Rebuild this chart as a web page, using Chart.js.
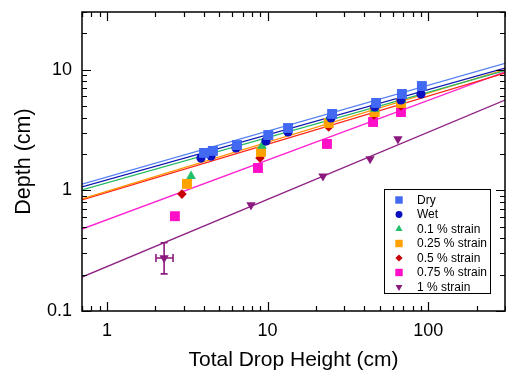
<!DOCTYPE html>
<html><head><meta charset="utf-8">
<script src="https://cdn.jsdelivr.net/npm/chart.js@4.4.1/dist/chart.umd.min.js"></script>
<style>html,body{margin:0;padding:0;background:#fff}#wrap{width:506px;height:375px;position:relative}</style>
</head><body><div id="wrap"><canvas id="c"></canvas></div>
<script>
// ---- data ----
const seriesNames = ['Dry', 'Wet', '0.1 % strain', '0.25 % strain', '0.5 % strain', '0.75 % strain', '1 % strain'];

const dryX = [4.02, 4.57, 6.45, 10.1, 13.4, 25.2, 47.3, 68.5, 91.2];
const dryY = [2.04, 2.12, 2.37, 2.87, 3.28, 4.29, 5.29, 6.28, 7.31];

const wetX = [3.85, 4.45, 6.36, 9.77, 13.4, 24.8, 46.4, 67.6, 90.0];
const wetY = [1.85, 1.92, 2.24, 2.56, 3.04, 3.97, 4.90, 5.60, 6.28];

const s010X = [3.34, 9.23, 24.4, 46.4, 68.5];
const s010Y = [1.31, 2.33, 4.08, 4.72, 5.60];

const s025X = [3.15, 9.10, 24.0, 46.4, 67.6];
const s025Y = [1.13, 2.08, 3.61, 4.45, 5.29];

const s050X = [2.93, 8.97, 24.0, 45.9, 67.6];
const s050Y = [0.93, 1.85, 3.35, 4.20, 4.99];

const s075X = [2.65, 8.71, 23.4, 45.3, 67.6];
const s075Y = [0.61, 1.53, 2.42, 3.68, 4.45];

const s100X = [2.27, 7.88, 22.1, 43.4, 64.7];
const s100Y = [0.275, 0.755, 1.31, 1.82, 2.66];

// error bars (1 % strain, first point only)
const s100ErrXLow  = [2.02, null, null, null, null];
const s100ErrXHigh = [2.58, null, null, null, null];
const s100ErrYLow  = [0.203, null, null, null, null];
const s100ErrYHigh = [0.368, null, null, null, null];

// power-law fit lines  depth = A * height^b
const fitPrefactor = [1.29, 1.22, 1.15, 0.98, 0.96, 0.57, 0.233];
const fitExponent  = [0.380, 0.374, 0.3755, 0.407, 0.399, 0.495, 0.557];

const xAxisMin = 0.7, xAxisMax = 300;
const yAxisMin = 0.1, yAxisMax = 30;
const xTickLabels = [1, 10, 100];
const yTickLabels = [0.1, 1, 10];

// ---- styles ----
const allX = [dryX, wetX, s010X, s025X, s050X, s075X, s100X];
const allY = [dryY, wetY, s010Y, s025Y, s050Y, s075Y, s100Y];
const markerColors = ['#4169f2', '#0a10c0', '#22c06a', '#ffa200', '#c80008', '#ff10c8', '#8c1a7e'];
const lineColors   = ['#5580f2', '#1018b0', '#26ba62', '#ff9200', '#ff2418', '#ff22d0', '#8e2484'];
const markerStyles = ['rect', 'circle', 'triangle', 'rect', 'rectRot', 'rect', 'triangleDown'];
const markerRadii  = [7, 4.6, 5.6, 7, 4.8, 7, 5.4];

const FONT = "'Liberation Sans', Arial, Helvetica, sans-serif";

const datasets = [];
for (let i = 0; i < seriesNames.length; i++) {
  const st = markerStyles[i];
  datasets.push({
    label: seriesNames[i],
    data: allX[i].map((x, j) => ({x: x, y: allY[i][j]})),
    showLine: false,
    pointStyle: st === 'triangleDown' ? 'triangle' : st,
    rotation: st === 'triangleDown' ? 180 : 0,
    pointRadius: markerRadii[i],
    pointBackgroundColor: markerColors[i],
    pointBorderColor: markerColors[i],
    pointBorderWidth: 0,
    order: 0
  });
}
for (let i = 0; i < seriesNames.length; i++) {
  datasets.push({
    label: seriesNames[i] + ' fit',
    data: [xAxisMin, xAxisMax].map(x => ({x: x, y: fitPrefactor[i] * Math.pow(x, fitExponent[i])})),
    showLine: true,
    pointRadius: 0,
    borderColor: lineColors[i],
    borderWidth: 1.3,
    fill: false,
    order: 1
  });
}

function isPow10(v) { const l = Math.log10(v); return Math.abs(l - Math.round(l)) < 1e-6; }
function isLogTick(v) {
  const m = v / Math.pow(10, Math.floor(Math.log10(v) + 1e-9));
  return Math.abs(m - Math.round(m)) < 1e-6;
}
function fmt(v) { return String(Number(v.toPrecision(3))); }

function drawMarker(ctx, style, x, y, r, color) {
  ctx.save();
  ctx.fillStyle = color;
  ctx.beginPath();
  if (style === 'rect') {
    const s = Math.SQRT1_2 * r;
    ctx.rect(x - s, y - s, 2 * s, 2 * s);
  } else if (style === 'circle') {
    ctx.arc(x, y, r, 0, Math.PI * 2);
  } else if (style === 'triangle' || style === 'triangleDown') {
    const sgn = style === 'triangle' ? 1 : -1;
    ctx.moveTo(x, y - sgn * r);
    ctx.lineTo(x + r * Math.sin(Math.PI / 3), y + sgn * r * 0.5);
    ctx.lineTo(x - r * Math.sin(Math.PI / 3), y + sgn * r * 0.5);
    ctx.closePath();
  } else if (style === 'rectRot') {
    ctx.moveTo(x, y - r); ctx.lineTo(x + r, y); ctx.lineTo(x, y + r); ctx.lineTo(x - r, y); ctx.closePath();
  }
  ctx.fill();
  ctx.restore();
}

const framePlugin = {
  id: 'frameTicks',
  afterDraw(chart) {
    const {ctx, chartArea: a, scales: {x, y}} = chart;
    ctx.save();
    ctx.strokeStyle = '#000';
    ctx.lineWidth = 1.2;
    x.ticks.forEach(t => {
      const v = t.value;
      if (v < xAxisMin || v > xAxisMax || !isLogTick(v)) return;
      const px = Math.round(x.getPixelForValue(v)) + 0.5;
      const len = isPow10(v) ? 9 : 5;
      ctx.beginPath();
      ctx.moveTo(px, a.bottom); ctx.lineTo(px, a.bottom - len);
      ctx.moveTo(px, a.top); ctx.lineTo(px, a.top + len);
      ctx.stroke();
    });
    y.ticks.forEach(t => {
      const v = t.value;
      if (v < yAxisMin || v > yAxisMax || !isLogTick(v)) return;
      const py = Math.round(y.getPixelForValue(v)) + 0.5;
      const len = isPow10(v) ? 9 : 5;
      ctx.beginPath();
      ctx.moveTo(a.left, py); ctx.lineTo(a.left + len, py);
      ctx.moveTo(a.right, py); ctx.lineTo(a.right - len, py);
      ctx.stroke();
    });
    ctx.lineWidth = 1.5;
    ctx.strokeRect(a.left, a.top, a.right - a.left, a.bottom - a.top);
    ctx.restore();
  }
};

const errorPlugin = {
  id: 'errorBars',
  afterDatasetsDraw(chart) {
    const {ctx, scales: {x, y}} = chart;
    ctx.save();
    ctx.strokeStyle = markerColors[6];
    ctx.lineWidth = 1.6;
    for (let j = 0; j < s100X.length; j++) {
      if (s100ErrYLow[j] == null) continue;
      const cx = x.getPixelForValue(s100X[j]);
      const cy = y.getPixelForValue(s100Y[j]);
      const yl = y.getPixelForValue(s100ErrYLow[j]);
      const yh = y.getPixelForValue(s100ErrYHigh[j]);
      const xl = x.getPixelForValue(s100ErrXLow[j]);
      const xh = x.getPixelForValue(s100ErrXHigh[j]);
      ctx.beginPath();
      ctx.moveTo(cx, yl); ctx.lineTo(cx, yh);
      ctx.moveTo(cx - 3.5, yl); ctx.lineTo(cx + 3.5, yl);
      ctx.moveTo(cx - 3.5, yh); ctx.lineTo(cx + 3.5, yh);
      ctx.moveTo(xl, cy); ctx.lineTo(xh, cy);
      ctx.moveTo(xl, cy - 4); ctx.lineTo(xl, cy + 4);
      ctx.moveTo(xh, cy - 4); ctx.lineTo(xh, cy + 4);
      ctx.stroke();
    }
    ctx.restore();
  }
};

const legendPlugin = {
  id: 'boxLegend',
  afterDraw(chart) {
    const ctx = chart.ctx;
    const bx = 384, by = 189, bw = 106, bh = 104;
    ctx.save();
    ctx.fillStyle = '#fff';
    ctx.fillRect(bx, by, bw, bh);
    ctx.strokeStyle = '#000';
    ctx.lineWidth = 1;
    ctx.strokeRect(bx + 0.5, by + 0.5, bw, bh);
    ctx.font = '12px ' + FONT;
    ctx.textBaseline = 'middle';
    ctx.textAlign = 'left';
    for (let i = 0; i < seriesNames.length; i++) {
      const ly = by + 11 + i * 14.5;
      drawMarker(ctx, markerStyles[i], bx + 15, ly, markerRadii[i] * 0.75, markerColors[i]);
      ctx.fillStyle = '#000';
      ctx.fillText(seriesNames[i], bx + 33, ly + 0.5);
    }
    ctx.restore();
  }
};

function zeroPad(s) { s.paddingTop = 0; s.paddingBottom = 0; s.paddingLeft = 0; s.paddingRight = 0; }

new Chart(document.getElementById('c'), {
  type: 'scatter',
  data: {datasets: datasets},
  plugins: [framePlugin, errorPlugin, legendPlugin],
  options: {
    responsive: true,
    maintainAspectRatio: false,
    animation: false,
    events: [],
    layout: {autoPadding: false, padding: {top: 12, right: 1, left: 0, bottom: 0}},
    plugins: {legend: {display: false}, tooltip: {enabled: false}},
    scales: {
      x: {
        type: 'logarithmic', min: xAxisMin, max: xAxisMax, position: 'bottom',
        grid: {display: false, drawTicks: false}, border: {display: false},
        ticks: {autoSkip: false, maxRotation: 0, minRotation: 0, padding: 9, color: '#000',
          font: {family: FONT, size: 18},
          callback: (v) => xTickLabels.some(t => Math.abs(t - v) < 1e-9 * t) ? fmt(v) : ''},
        title: {display: true, text: 'Total Drop Height (cm)', color: '#000',
          font: {family: FONT, size: 21}, padding: {top: 0, bottom: 2}},
        afterFit: (s) => { s.height = 64; zeroPad(s); }
      },
      y: {
        type: 'logarithmic', min: yAxisMin, max: yAxisMax, position: 'left',
        grid: {display: false, drawTicks: false}, border: {display: false},
        ticks: {autoSkip: false, padding: 10, color: '#000',
          font: {family: FONT, size: 18},
          callback: (v) => yTickLabels.some(t => Math.abs(t - v) < 1e-6 * t) ? fmt(v) : ''},
        title: {display: true, text: 'Depth (cm)', color: '#000',
          font: {family: FONT, size: 21.5}, padding: {top: 11, bottom: 0}},
        afterFit: (s) => { s.width = 82; zeroPad(s); }
      }
    }
  }
});
</script>
</body></html>
